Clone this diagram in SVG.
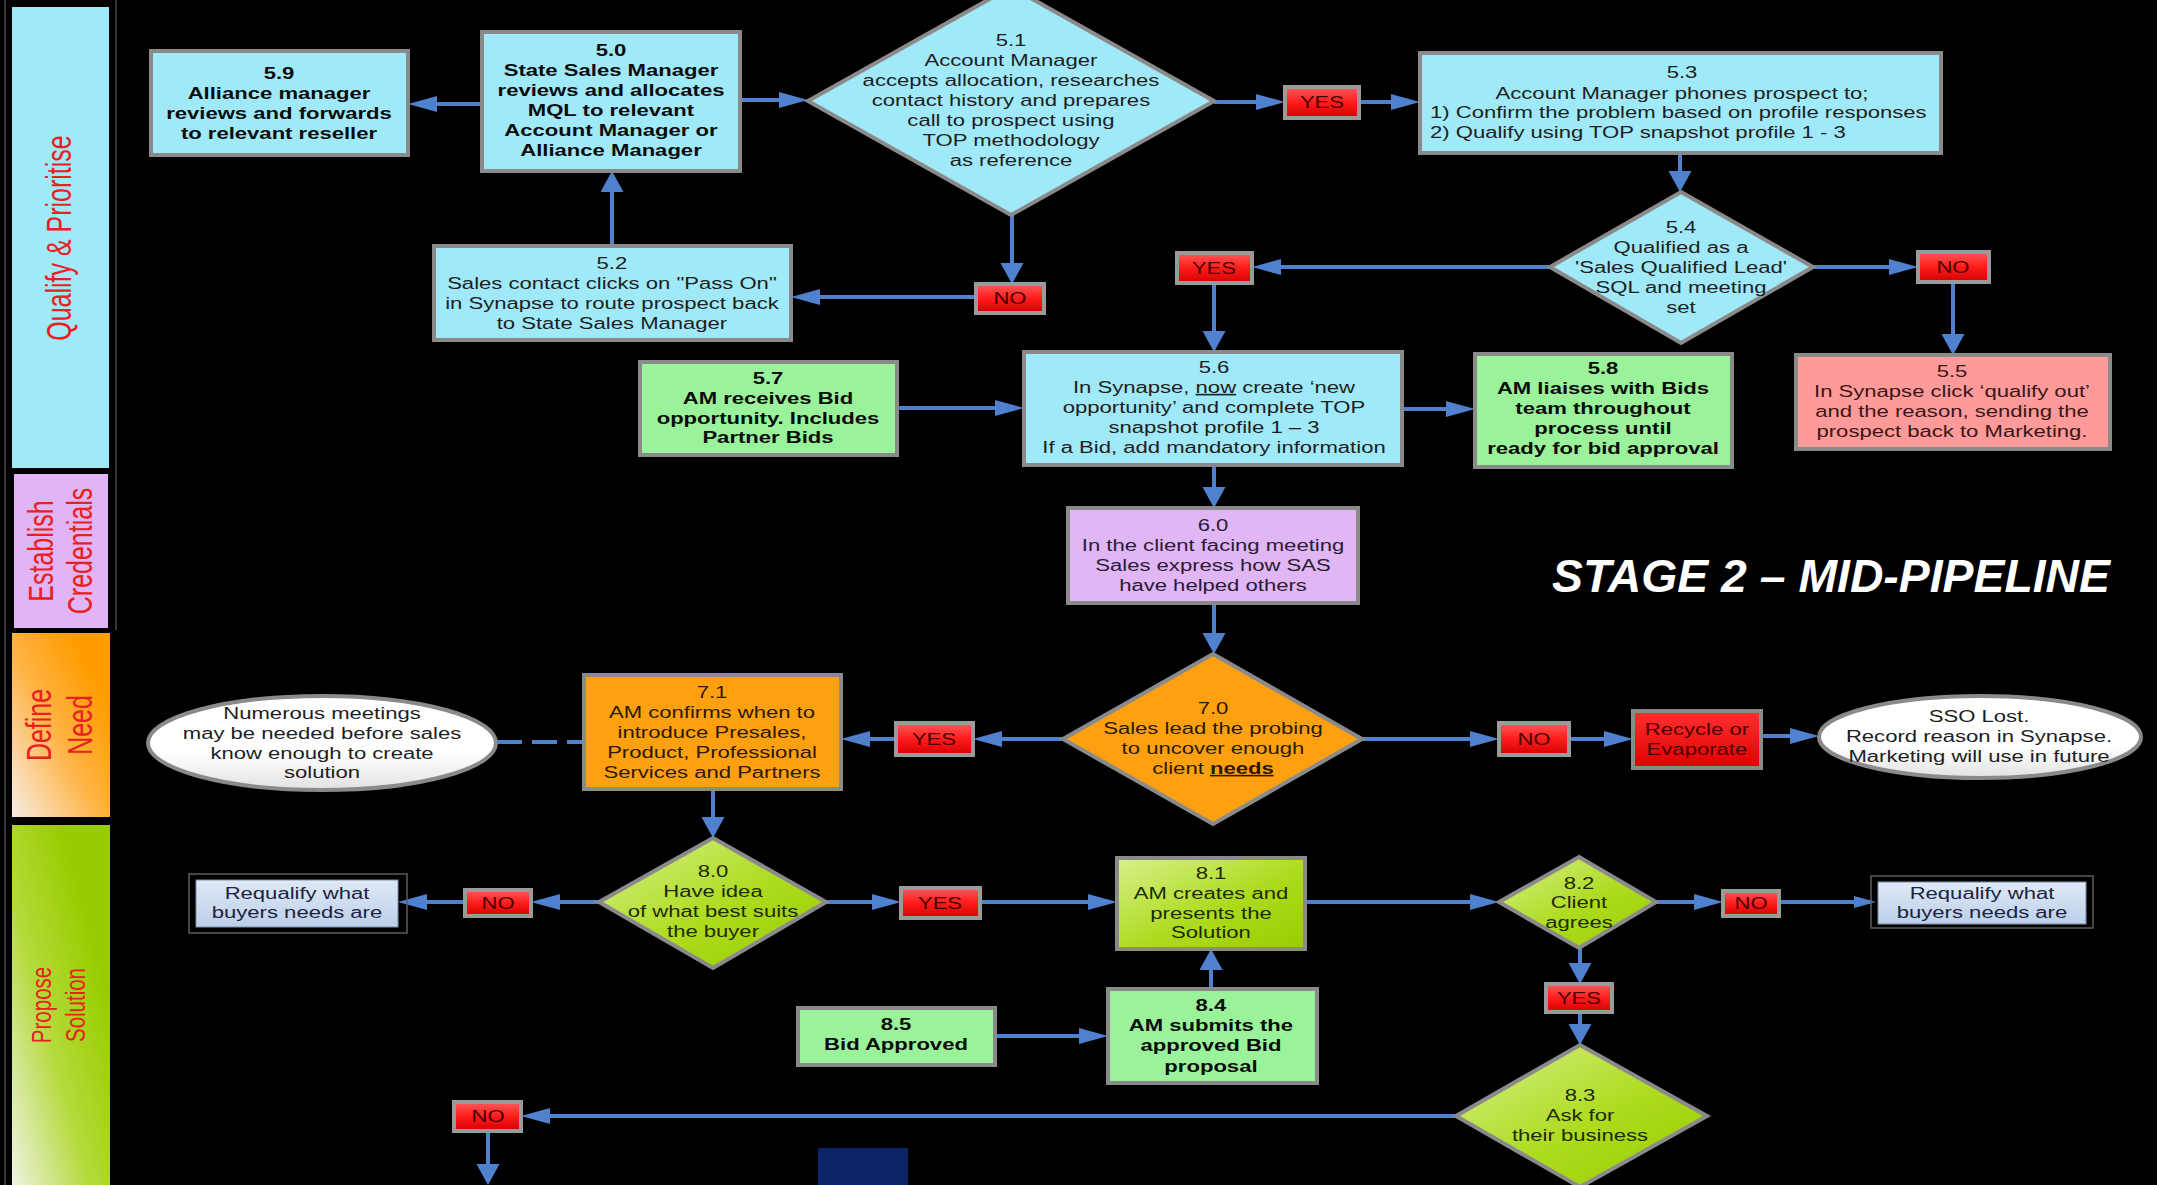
<svg xmlns="http://www.w3.org/2000/svg" width="2157" height="1185" viewBox="0 0 2157 1185">
  <defs>
    <style>
      .t { font-family: "Liberation Sans", Arial, sans-serif; font-size: 16px; fill: #1e1e1e; text-anchor: middle; transform-box: fill-box; transform-origin: center; transform: scaleX(1.38); }
      .tl { text-anchor: start; transform-origin: left center; }
      .b { font-weight: bold; fill: #0c0c0c; }
      .lbl { font-family: "Liberation Sans", Arial, sans-serif; font-size: 17px; fill: #4a0000; text-anchor: middle; transform-box: fill-box; transform-origin: center; transform: scaleX(1.3); }
      .lane { font-family: "Liberation Sans", Arial, sans-serif; font-size: 25px; fill: #e8201e; text-anchor: middle; }
      .box { stroke: #8a8a8a; stroke-width: 4; }
      .cyan { fill: #a0e9f9; }
      .green { fill: #9af39a; }
      .orange { fill: #ffa010; }
      .yn { fill: url(#redLabel); stroke: #9a9a9a; stroke-width: 4; }
      .conn { stroke: #4f81cf; stroke-width: 4; fill: none; }
      .frame { fill: none; stroke: #5c5c5c; stroke-width: 1.5; }
    </style>
    <marker id="ah" markerUnits="userSpaceOnUse" markerWidth="30" markerHeight="18" refX="21" refY="8" orient="auto">
      <path d="M0,0 L29,8 L0,16 Z" fill="#4f81cf"/>
    </marker>
    <marker id="av" markerUnits="userSpaceOnUse" markerWidth="22" markerHeight="24" refX="15" refY="11.5" orient="auto">
      <path d="M0,0 L21,11.5 L0,23 Z" fill="#4f81cf"/>
    </marker>
    <marker id="as" markerUnits="userSpaceOnUse" markerWidth="24" markerHeight="14" refX="18" refY="6" orient="auto">
      <path d="M0,0 L22,6 L0,12 Z" fill="#4f81cf"/>
    </marker>
    <linearGradient id="redLabel" x1="0" y1="0" x2="0" y2="1">
      <stop offset="0" stop-color="#ff5a5a"/>
      <stop offset="0.5" stop-color="#ff1c1c"/>
      <stop offset="1" stop-color="#d20000"/>
    </linearGradient>
    <linearGradient id="lime" x1="0" y1="0" x2="1" y2="1">
      <stop offset="0" stop-color="#d8f08c"/>
      <stop offset="0.55" stop-color="#addb1e"/>
      <stop offset="1" stop-color="#99cc00"/>
    </linearGradient>
    <linearGradient id="orangeLane" x1="0" y1="1" x2="1" y2="0">
      <stop offset="0" stop-color="#f6ede4"/>
      <stop offset="0.45" stop-color="#ffb446"/>
      <stop offset="0.8" stop-color="#ff9c00"/>
    </linearGradient>
    <linearGradient id="greenLane" x1="0" y1="1" x2="1" y2="0">
      <stop offset="0" stop-color="#eef3e2"/>
      <stop offset="0.4" stop-color="#b4da3a"/>
      <stop offset="0.75" stop-color="#99cc00"/>
    </linearGradient>
    <linearGradient id="oval" x1="0" y1="0" x2="0" y2="1">
      <stop offset="0" stop-color="#ffffff"/>
      <stop offset="0.6" stop-color="#ffffff"/>
      <stop offset="1" stop-color="#e2e2e2"/>
    </linearGradient>
    <linearGradient id="steel" x1="0" y1="0" x2="0" y2="1">
      <stop offset="0" stop-color="#dfe9f6"/>
      <stop offset="1" stop-color="#bccfe9"/>
    </linearGradient>
    <linearGradient id="recycle" x1="0" y1="0" x2="0" y2="1">
      <stop offset="0" stop-color="#ff3030"/>
      <stop offset="1" stop-color="#e00000"/>
    </linearGradient>
  </defs>

  <rect x="0" y="0" width="2157" height="1185" fill="#000000"/>

  <!-- swim-lane bars -->
  <g id="lanes">
    <line x1="5" y1="0" x2="5" y2="1185" stroke="#4a4a4a" stroke-width="1.5"/>
    <line x1="116" y1="0" x2="116" y2="630" stroke="#4a4a4a" stroke-width="1.5"/>
    <rect x="12" y="7" width="97" height="461" fill="#a0e9f9"/>
    <rect x="14" y="474" width="94" height="154" fill="#e0b4f5"/>
    <rect x="12" y="633" width="98" height="184" fill="url(#orangeLane)"/>
    <rect x="12" y="825" width="98" height="360" fill="url(#greenLane)"/>
    <g transform="translate(71 238) scale(1.38 1)"><text class="lane" transform="rotate(-90)">Qualify &amp; Prioritise</text></g>
    <g transform="translate(53 551) scale(1.38 1)"><text class="lane" transform="rotate(-90)">Establish</text></g>
    <g transform="translate(92 551) scale(1.38 1)"><text class="lane" transform="rotate(-90)">Credentials</text></g>
    <g transform="translate(51 725) scale(1.38 1)"><text class="lane" transform="rotate(-90)">Define</text></g>
    <g transform="translate(92 725) scale(1.38 1)"><text class="lane" transform="rotate(-90)">Need</text></g>
    <g transform="translate(51 1005) scale(1.38 1)"><text class="lane" style="font-size:20.5px" transform="rotate(-90)">Propose</text></g>
    <g transform="translate(85 1005) scale(1.38 1)"><text class="lane" style="font-size:20.5px" transform="rotate(-90)">Solution</text></g>
  </g>

  <!-- connectors -->
  <g id="connectors">
    <path class="conn" d="M482,104 H416" marker-end="url(#ah)"/>
    <path class="conn" d="M740,100 H800" marker-end="url(#ah)"/>
    <path class="conn" d="M612,246 V177" marker-end="url(#av)"/>
    <path class="conn" d="M1214,102 H1277" marker-end="url(#ah)"/>
    <path class="conn" d="M1359,102 H1412" marker-end="url(#ah)"/>
    <path class="conn" d="M1012,215 V278" marker-end="url(#av)"/>
    <path class="conn" d="M976,297 H799" marker-end="url(#ah)"/>
    <path class="conn" d="M1680,153 V186" marker-end="url(#av)"/>
    <path class="conn" d="M1550,267 H1260" marker-end="url(#ah)"/>
    <path class="conn" d="M1214,283 V346" marker-end="url(#av)"/>
    <path class="conn" d="M1813,267 H1910" marker-end="url(#ah)"/>
    <path class="conn" d="M1953,282 V349" marker-end="url(#av)"/>
    <path class="conn" d="M897,408 H1016" marker-end="url(#ah)"/>
    <path class="conn" d="M1402,409 H1467" marker-end="url(#ah)"/>
    <path class="conn" d="M1214,465 V502" marker-end="url(#av)"/>
    <path class="conn" d="M1214,603 V648" marker-end="url(#av)"/>
    <path class="conn" d="M1063,739 H981" marker-end="url(#ah)"/>
    <path class="conn" d="M896,739 H849" marker-end="url(#ah)"/>
    <path class="conn" d="M1362,739 H1491" marker-end="url(#ah)"/>
    <path class="conn" d="M1569,739 H1625" marker-end="url(#ah)"/>
    <path class="conn" d="M1761,736 H1811" marker-end="url(#ah)"/>
    <path class="conn" d="M497,742 H584" stroke-width="3" stroke-dasharray="25 10"/>
    <path class="conn" d="M713,789 V832" marker-end="url(#av)"/>
    <path class="conn" d="M599,902 H539" marker-end="url(#ah)"/>
    <path class="conn" d="M465,902 H406" marker-end="url(#ah)"/>
    <path class="conn" d="M826,902 H893" marker-end="url(#ah)"/>
    <path class="conn" d="M980,902 H1109" marker-end="url(#ah)"/>
    <path class="conn" d="M1305,902 H1491" marker-end="url(#ah)"/>
    <path class="conn" d="M1211,989 V955" marker-end="url(#av)"/>
    <path class="conn" d="M995,1036 H1100" marker-end="url(#ah)"/>
    <path class="conn" d="M1656,902 H1715" marker-end="url(#ah)"/>
    <path class="conn" d="M1779,902 H1872" stroke-width="2" marker-end="url(#as)"/>
    <path class="conn" d="M1580,948 V978" marker-end="url(#av)"/>
    <path class="conn" d="M1580,1012 V1039" marker-end="url(#av)"/>
    <path class="conn" d="M1456,1116 H529" marker-end="url(#ah)"/>
    <path class="conn" d="M488,1131 V1179" marker-end="url(#av)"/>
  </g>

  <!-- decision labels -->
  <g id="labels">
    <g id="yes-5-1"><rect class="yn" x="1285" y="87" width="74" height="31"/><text class="lbl" x="1322" y="108">YES</text></g>
    <g id="no-5-1"><rect class="yn" x="976" y="284" width="68" height="29"/><text class="lbl" x="1010" y="304">NO</text></g>
    <g id="yes-5-4"><rect class="yn" x="1177" y="253" width="75" height="30"/><text class="lbl" x="1214" y="274">YES</text></g>
    <g id="no-5-4"><rect class="yn" x="1918" y="252" width="71" height="30"/><text class="lbl" x="1953" y="273">NO</text></g>
    <g id="yes-7-0"><rect class="yn" x="896" y="723" width="77" height="32"/><text class="lbl" x="934" y="745">YES</text></g>
    <g id="no-7-0"><rect class="yn" x="1499" y="723" width="70" height="32"/><text class="lbl" x="1534" y="745">NO</text></g>
    <g id="yes-8-0"><rect class="yn" x="901" y="888" width="79" height="30"/><text class="lbl" x="940" y="909">YES</text></g>
    <g id="no-8-0"><rect class="yn" x="465" y="890" width="66" height="26"/><text class="lbl" x="498" y="909">NO</text></g>
    <g id="no-8-2"><rect class="yn" x="1723" y="891" width="56" height="25"/><text class="lbl" x="1751" y="909">NO</text></g>
    <g id="yes-8-2"><rect class="yn" x="1546" y="984" width="66" height="28"/><text class="lbl" x="1579" y="1004">YES</text></g>
    <g id="no-8-3"><rect class="yn" x="454" y="1102" width="67" height="29"/><text class="lbl" x="488" y="1122">NO</text></g>
  </g>

  <!-- stage 5: qualify -->
  <g id="n5-9">
    <rect class="box cyan" x="151" y="51" width="257" height="104"/>
    <text class="t b"><tspan x="279" y="79">5.9</tspan><tspan x="279" y="99">Alliance manager</tspan><tspan x="279" y="119">reviews and forwards</tspan><tspan x="279" y="139">to relevant reseller</tspan></text>
  </g>
  <g id="n5-0">
    <rect class="box cyan" x="482" y="32" width="258" height="139"/>
    <text class="t b"><tspan x="611" y="56">5.0</tspan><tspan x="611" y="76">State Sales Manager</tspan><tspan x="611" y="96">reviews and allocates</tspan><tspan x="611" y="116">MQL to relevant</tspan><tspan x="611" y="136">Account Manager or</tspan><tspan x="611" y="156">Alliance Manager</tspan></text>
  </g>
  <g id="n5-1">
    <polygon class="box cyan" points="1011,-13 1214,101 1011,215 808,101"/>
    <text class="t"><tspan x="1011" y="46">5.1</tspan><tspan x="1011" y="66">Account Manager</tspan><tspan x="1011" y="86">accepts allocation, researches</tspan><tspan x="1011" y="106">contact history and prepares</tspan><tspan x="1011" y="126">call to prospect using</tspan><tspan x="1011" y="146">TOP methodology</tspan><tspan x="1011" y="166">as reference</tspan></text>
  </g>
  <g id="n5-2">
    <rect class="box cyan" x="434" y="246" width="357" height="94"/>
    <text class="t"><tspan x="612" y="269">5.2</tspan><tspan x="612" y="289">Sales contact clicks on "Pass On"</tspan><tspan x="612" y="309">in Synapse to route prospect back</tspan><tspan x="612" y="329">to State Sales Manager</tspan></text>
  </g>
  <g id="n5-3">
    <rect class="box cyan" x="1420" y="53" width="521" height="100"/>
    <text class="t"><tspan x="1682" y="78">5.3</tspan><tspan x="1682" y="99">Account Manager phones prospect to;</tspan></text>
    <text class="t tl"><tspan x="1430" y="118">1) Confirm the problem based on profile responses</tspan><tspan x="1430" y="138">2) Qualify using TOP snapshot profile 1 - 3</tspan></text>
  </g>
  <g id="n5-4">
    <polygon class="box cyan" points="1681,192 1813,267 1681,343 1550,267"/>
    <text class="t"><tspan x="1681" y="233">5.4</tspan><tspan x="1681" y="253">Qualified as a</tspan><tspan x="1681" y="273">'Sales Qualified Lead'</tspan><tspan x="1681" y="293">SQL and meeting</tspan><tspan x="1681" y="313">set</tspan></text>
  </g>
  <g id="n5-5">
    <rect class="box" fill="#ff9a9a" x="1796" y="355" width="314" height="94"/>
    <text class="t" style="fill:#3a1616"><tspan x="1952" y="377">5.5</tspan><tspan x="1952" y="397">In Synapse click ‘qualify out’</tspan><tspan x="1952" y="417">and the reason, sending the</tspan><tspan x="1952" y="437">prospect back to Marketing.</tspan></text>
  </g>
  <g id="n5-6">
    <rect class="box cyan" x="1024" y="352" width="378" height="113"/>
    <text class="t"><tspan x="1214" y="373">5.6</tspan><tspan x="1214" y="393">In Synapse, <tspan text-decoration="underline">now</tspan> create ‘new</tspan><tspan x="1214" y="413">opportunity’  and complete TOP</tspan><tspan x="1214" y="433">snapshot profile 1 – 3</tspan><tspan x="1214" y="453">If a Bid, add mandatory information</tspan></text>
  </g>
  <g id="n5-7">
    <rect class="box green" x="640" y="362" width="257" height="93"/>
    <text class="t b"><tspan x="768" y="384">5.7</tspan><tspan x="768" y="404">AM receives Bid</tspan><tspan x="768" y="424">opportunity. Includes</tspan><tspan x="768" y="443">Partner Bids</tspan></text>
  </g>
  <g id="n5-8">
    <rect class="box green" x="1475" y="354" width="257" height="113"/>
    <text class="t b"><tspan x="1603" y="374">5.8</tspan><tspan x="1603" y="394">AM liaises with Bids</tspan><tspan x="1603" y="414">team throughout</tspan><tspan x="1603" y="434">process until</tspan><tspan x="1603" y="454">ready for bid approval</tspan></text>
  </g>

  <!-- stage 6: credentials -->
  <g id="n6-0">
    <rect class="box" fill="#e0b6f5" x="1068" y="508" width="290" height="95"/>
    <text class="t" style="fill:#2a1a36"><tspan x="1213" y="531">6.0</tspan><tspan x="1213" y="551">In the client facing meeting</tspan><tspan x="1213" y="571">Sales express how SAS</tspan><tspan x="1213" y="591">have helped others</tspan></text>
  </g>

  <text x="1552" y="592" font-family="'Liberation Sans', Arial, sans-serif" font-size="47" font-weight="bold" font-style="italic" fill="#ffffff" textLength="558" lengthAdjust="spacingAndGlyphs">STAGE 2 – MID-PIPELINE</text>

  <!-- stage 7: define need -->
  <g id="n7-0">
    <polygon class="box orange" points="1213,654 1362,739 1213,824 1063,739"/>
    <text class="t" style="fill:#2b1a00"><tspan x="1213" y="714">7.0</tspan><tspan x="1213" y="734">Sales lead the probing</tspan><tspan x="1213" y="754">to uncover enough</tspan><tspan x="1213" y="774">client <tspan font-weight="bold" text-decoration="underline">needs</tspan></tspan></text>
  </g>
  <g id="n7-1">
    <rect class="box orange" x="584" y="675" width="257" height="114"/>
    <text class="t" style="fill:#2b1a00"><tspan x="712" y="698">7.1</tspan><tspan x="712" y="718">AM confirms when to</tspan><tspan x="712" y="738">introduce Presales,</tspan><tspan x="712" y="758">Product, Professional</tspan><tspan x="712" y="778">Services and Partners</tspan></text>
  </g>
  <g id="note-meetings">
    <ellipse cx="322" cy="743" rx="174" ry="47" fill="url(#oval)" stroke="#8a8a8a" stroke-width="4"/>
    <text class="t"><tspan x="322" y="719">Numerous meetings</tspan><tspan x="322" y="739">may be needed before sales</tspan><tspan x="322" y="759">know enough to create</tspan><tspan x="322" y="778">solution</tspan></text>
  </g>
  <g id="recycle">
    <rect class="box" fill="url(#recycle)" x="1633" y="711" width="128" height="57"/>
    <text class="t" style="fill:#4a0000"><tspan x="1697" y="735">Recycle or</tspan><tspan x="1697" y="755">Evaporate</tspan></text>
  </g>
  <g id="sso-lost">
    <ellipse cx="1980" cy="737" rx="161" ry="41" fill="url(#oval)" stroke="#8a8a8a" stroke-width="4"/>
    <text class="t"><tspan x="1979" y="722">SSO Lost.</tspan><tspan x="1979" y="742">Record reason in Synapse.</tspan><tspan x="1979" y="762">Marketing will use in future</tspan></text>
  </g>

  <!-- stage 8: propose solution -->
  <g id="n8-0">
    <polygon class="box" fill="url(#lime)" points="713,838 826,902 713,968 599,902"/>
    <text class="t" style="fill:#1f2a00"><tspan x="713" y="877">8.0</tspan><tspan x="713" y="897">Have idea</tspan><tspan x="713" y="917">of what best suits</tspan><tspan x="713" y="937">the buyer</tspan></text>
  </g>
  <g id="requalify-left">
    <rect class="frame" x="189" y="874" width="218" height="59"/>
    <rect x="196" y="880" width="202" height="47" fill="url(#steel)" stroke="#7d8da8" stroke-width="1"/>
    <text class="t" style="fill:#1c2440"><tspan x="297" y="899">Requalify what</tspan><tspan x="297" y="918">buyers needs are</tspan></text>
  </g>
  <g id="n8-1">
    <rect class="box" fill="url(#lime)" x="1117" y="858" width="188" height="91"/>
    <text class="t" style="fill:#1f2a00"><tspan x="1211" y="879">8.1</tspan><tspan x="1211" y="899">AM creates and</tspan><tspan x="1211" y="919">presents the</tspan><tspan x="1211" y="938">Solution</tspan></text>
  </g>
  <g id="n8-2">
    <polygon class="box" fill="url(#lime)" points="1579,857 1656,902 1579,948 1499,902"/>
    <text class="t" style="fill:#1f2a00"><tspan x="1579" y="889">8.2</tspan><tspan x="1579" y="908">Client</tspan><tspan x="1579" y="928">agrees</tspan></text>
  </g>
  <g id="requalify-right">
    <rect class="frame" x="1871" y="876" width="222" height="52"/>
    <rect x="1878" y="882" width="208" height="42" fill="url(#steel)" stroke="#7d8da8" stroke-width="1"/>
    <text class="t" style="fill:#1c2440"><tspan x="1982" y="899">Requalify what</tspan><tspan x="1982" y="918">buyers needs are</tspan></text>
  </g>
  <g id="n8-3">
    <polygon class="box" fill="url(#lime)" points="1580,1045 1707,1116 1580,1187 1456,1116"/>
    <text class="t" style="fill:#1f2a00"><tspan x="1580" y="1101">8.3</tspan><tspan x="1580" y="1121">Ask for</tspan><tspan x="1580" y="1141">their business</tspan></text>
  </g>
  <g id="n8-4">
    <rect class="box green" x="1108" y="989" width="209" height="94"/>
    <text class="t b"><tspan x="1211" y="1011">8.4</tspan><tspan x="1211" y="1031">AM submits the</tspan><tspan x="1211" y="1051">approved Bid</tspan><tspan x="1211" y="1072">proposal</tspan></text>
  </g>
  <g id="n8-5">
    <rect class="box green" x="798" y="1008" width="197" height="57"/>
    <text class="t b"><tspan x="896" y="1030">8.5</tspan><tspan x="896" y="1050">Bid Approved</tspan></text>
  </g>

  <rect id="navy-block" x="818" y="1148" width="90" height="37" fill="#0c2468"/>
</svg>
